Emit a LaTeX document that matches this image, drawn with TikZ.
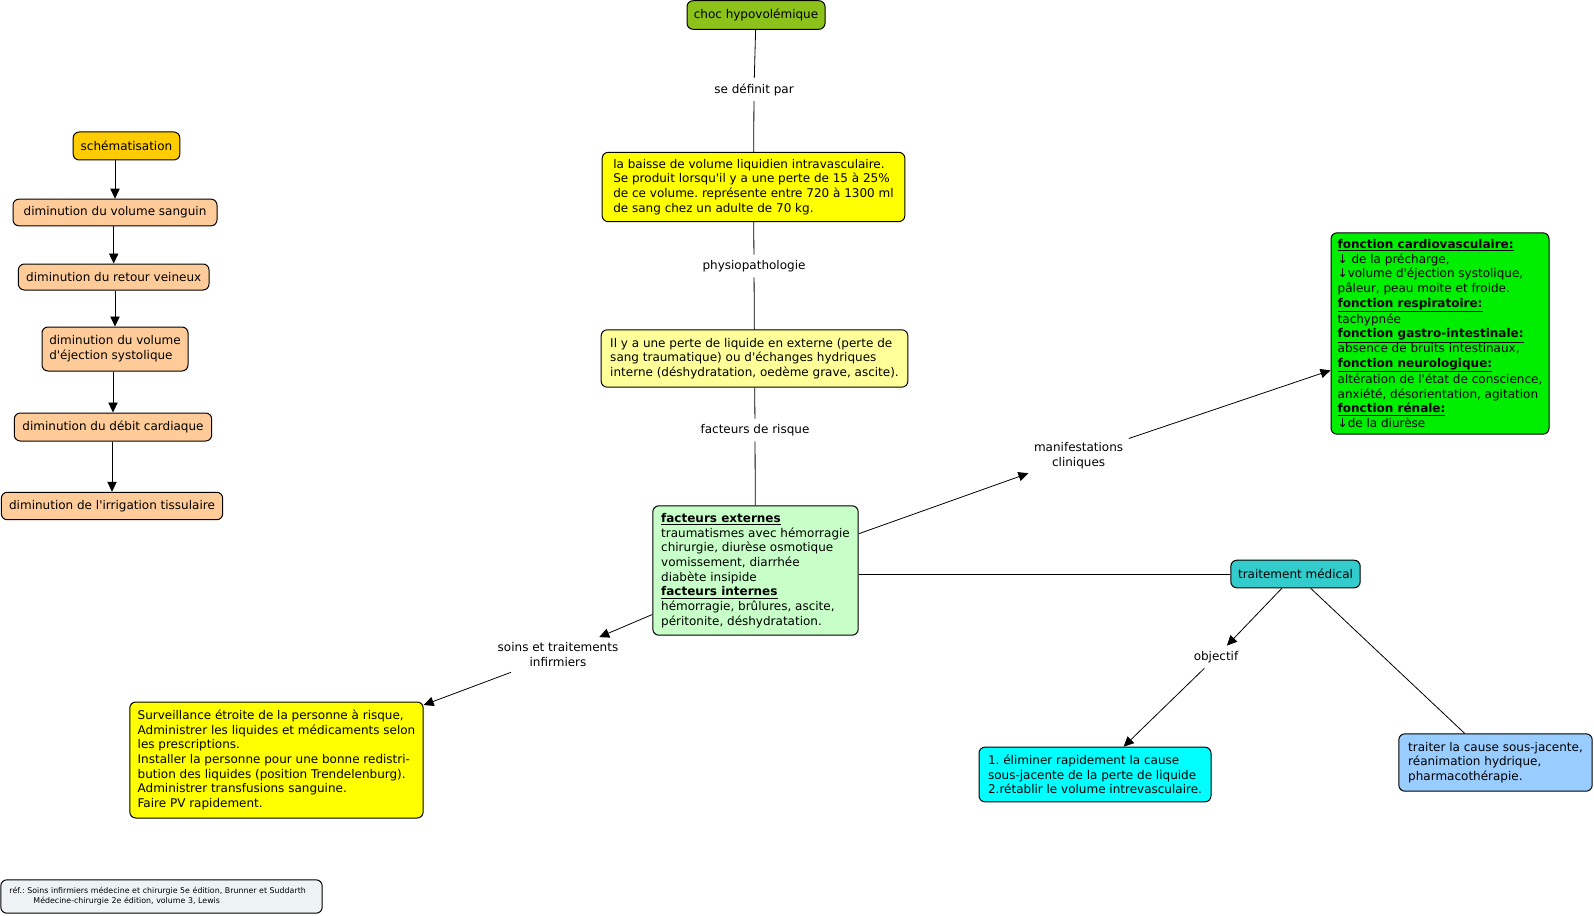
\documentclass[tikz,border=0pt]{standalone}
\usepackage{fontspec}
\setmainfont{DejaVu Sans}[Ligatures=TeXOff]
\usetikzlibrary{arrows.meta}
\definecolor{cChoc}{HTML}{8CC21A}
\definecolor{cYel}{HTML}{FFFF00}
\definecolor{cLYel}{HTML}{FFFF99}
\definecolor{cLGreen}{HTML}{C8FFC8}
\definecolor{cGreen}{HTML}{00EE00}
\definecolor{cTeal}{HTML}{33CCCC}
\definecolor{cCyan}{HTML}{00FFFF}
\definecolor{cBlue}{HTML}{99CCFF}
\definecolor{cGold}{HTML}{FFCC00}
\definecolor{cPeach}{HTML}{FFCC99}
\definecolor{cRef}{HTML}{EEF3F5}
\newcommand{\hd}[1]{\underline{\textbf{#1}}}
\frenchspacing
\begin{document}
\begin{tikzpicture}[x=0.75pt,y=-0.75pt,
  box/.style={draw=black, line width=0.75pt, rounded corners=4.5pt,
    font=\fontsize{9}{11}\selectfont, inner xsep=2pt, inner ysep=3pt},
  tbox/.style={box, align=left},
  sbox/.style={box, align=center},
  lbl/.style={font=\fontsize{9}{11}\selectfont, align=center, inner sep=4pt},
  conn/.style={line width=0.6pt},
  arr/.style={conn, -{Triangle[length=7.5pt,width=7pt]}},
]
\useasboundingbox (0,0) rectangle (1594,916);

% central column
\node[sbox, fill=cChoc, minimum width=103.5pt, minimum height=21.4pt] (choc) at (756,15) {choc hypovolémique};
\node[lbl] (l1) at (754,89.5) {se définit par};
\node[tbox, fill=cYel, minimum width=227pt, minimum height=52pt] (def) at (753.5,187)
 {la baisse de volume liquidien intravasculaire.\\Se produit lorsqu'il y a une perte de 15 à 25\%\\de ce volume. représente entre 720 à 1300 ml\\de sang chez un adulte de 70 kg.};
\node[lbl] (l2) at (754,266) {physiopathologie};
\node[tbox, fill=cLYel, minimum width=230pt, minimum height=43pt] (phys) at (754.5,358.5)
 {Il y a une perte de liquide en externe (perte de\\sang traumatique) ou d'échanges hydriques\\interne (déshydratation, oedème grave, ascite).};
\node[lbl] (l3) at (755,430) {facteurs de risque};
\node[tbox, fill=cLGreen, minimum width=154pt, minimum height=97pt] (fact) at (755.5,570.5)
 {\hd{facteurs externes}\\traumatismes avec hémorragie\\chirurgie, diurèse osmotique\\vomissement, diarrhée\\diabète insipide\\\hd{facteurs internes}\\hémorragie, brûlures, ascite,\\péritonite, déshydratation.};

% right part
\node[lbl] (l4) at (1078.6,455.4) {manifestations\\cliniques};
\node[tbox, fill=cGreen, minimum width=163.5pt, minimum height=151pt] (manif) at (1440,333.5)
 {\hd{fonction cardiovasculaire:}\\↓ de la précharge,\\↓volume d'éjection systolique,\\pâleur, peau moite et froide.\\\hd{fonction respiratoire:}\\tachypnée\\\hd{fonction gastro-intestinale:}\\absence de bruits intestinaux,\\\hd{fonction neurologique:}\\altération de l'état de conscience,\\anxiété, désorientation, agitation\\\hd{fonction rénale:}\\↓de la diurèse};
\node[sbox, fill=cTeal, minimum width=97pt, minimum height=20.7pt] (trait) at (1295.5,574) {traitement médical};
\node[lbl] (l5) at (1216,657) {objectif};
\node[tbox, fill=cCyan, minimum width=174pt, minimum height=41pt] (obj) at (1095,774.5)
 {1. éliminer rapidement la cause\\sous-jacente de la perte de liquide\\2.rétablir le volume intrevasculaire.};
\node[tbox, fill=cBlue, minimum width=145pt, minimum height=43pt] (cause) at (1495.5,762.5)
 {traiter la cause sous-jacente,\\réanimation hydrique,\\pharmacothérapie.};

% bottom left
\node[lbl] (l6) at (558,654.7) {soins et traitements\\infirmiers};
\node[tbox, fill=cYel, minimum width=220pt, minimum height=87pt] (soins) at (276.5,760)
 {Surveillance étroite de la personne à risque,\\Administrer les liquides et médicaments selon\\les prescriptions.\\Installer la personne pour une bonne redistri-\\bution des liquides (position Trendelenburg).\\Administrer transfusions sanguine.\\Faire PV rapidement.};

% reference box
\node[box, fill=cRef, align=left, font=\fontsize{5.9}{7.5}\selectfont, inner xsep=6.5pt, text width=228pt, minimum height=25pt] (ref) at (161.5,896.5)
 {réf.: Soins infirmiers médecine et chirurgie 5e édition, Brunner et Suddarth\\\hspace*{18pt}Médecine-chirurgie 2e édition, volume 3, Lewis};

% left column
\node[sbox, fill=cGold, minimum width=80pt, minimum height=21pt] (schem) at (126.5,146) {schématisation};
\node[sbox, fill=cPeach, minimum width=153pt, minimum height=20pt] (s1) at (115,212.5) {diminution du volume sanguin};
\node[sbox, fill=cPeach, minimum width=143pt, minimum height=19.5pt] (s2) at (113.7,277) {diminution du retour veineux};
\node[tbox, fill=cPeach, minimum width=109.5pt, minimum height=33pt] (s3) at (115,349) {diminution du volume\\d'éjection systolique};
\node[sbox, fill=cPeach, minimum width=148pt, minimum height=21pt] (s4) at (113,427) {diminution du débit cardiaque};
\node[sbox, fill=cPeach, minimum width=166pt, minimum height=20.6pt] (s5) at (112,506) {diminution de l'irrigation tissulaire};

% connectors
\draw[conn] (choc) -- (l1);
\draw[conn] (l1) -- (def);
\draw[conn] (def) -- (l2);
\draw[conn] (l2) -- (phys);
\draw[conn] (phys) -- (l3);
\draw[conn] (l3) -- (fact);
\draw[arr] (fact) -- (l4);
\draw[arr] (l4) -- (manif);
\draw[conn] (fact.east |- trait.west) -- (trait.west);
\draw[arr] (trait) -- (l5);
\draw[arr] (l5) -- (obj);
\draw[conn] (trait) -- (cause);
\draw[arr] (fact) -- (l6);
\draw[arr] (l6) -- (soins);
\draw[arr] (schem.south -| s1.north) -- (s1.north);
\draw[arr] (s1.south -| s2.north) -- (s2.north);
\draw[arr] (s2.south -| s3.north) -- (s3.north);
\draw[arr] (s3.south -| s4.north) -- (s4.north);
\draw[arr] (s4.south -| s5.north) -- (s5.north);
\end{tikzpicture}
\end{document}
